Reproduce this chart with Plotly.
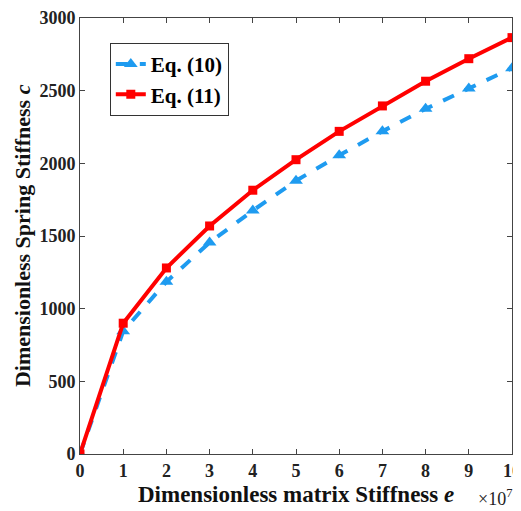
import plotly.graph_objects as go

x_vals = [0, 1, 2, 3, 4, 5, 6, 7, 8, 9, 10]
eq10 = [0, 845, 1185, 1455, 1675, 1880, 2055, 2220, 2375, 2515, 2655]
eq11 = [0, 900, 1280, 1569, 1815, 2025, 2220, 2395, 2565, 2720, 2865]
x_ticks = [0, 1, 2, 3, 4, 5, 6, 7, 8, 9, 10]
y_ticks = [0, 500, 1000, 1500, 2000, 2500, 3000]

font_family = "Liberation Serif"

fig = go.Figure()
fig.add_trace(go.Scatter(
    x=x_vals, y=eq10, name="<b>Eq. (10)</b>", mode="lines+markers",
    line=dict(color="#1E9BF0", width=4, dash="dash"),
    marker=dict(symbol="triangle-up", size=12, color="#1E9BF0"),
))
fig.add_trace(go.Scatter(
    x=x_vals, y=eq11, name="<b>Eq. (11)</b>", mode="lines+markers",
    line=dict(color="#FF0000", width=4),
    marker=dict(symbol="square", size=9, color="#FF0000"),
))

# page body has an 8px default margin, so size and margins are compensated
fig.update_layout(
    width=513, height=503,
    margin=dict(l=72, r=9, t=10, b=57, autoexpand=False),
    plot_bgcolor="white", paper_bgcolor="white",
    font=dict(family=font_family, size=18, color="#222222"),
    showlegend=True,
    legend=dict(
        x=0.069, y=0.943, xanchor="left", yanchor="top",
        bgcolor="white", bordercolor="#333333", borderwidth=1,
        font=dict(family=font_family, size=21, color="black"),
        tracegroupgap=0, itemwidth=30,
    ),
    xaxis=dict(
        range=[0, 10], tickvals=x_ticks, ticktext=[f"<b>{v}</b>" for v in x_ticks],
        ticks="inside", ticklen=5, tickcolor="#444444",
        showline=True, linecolor="#444444", linewidth=1, mirror="ticks",
        showgrid=False, zeroline=False, automargin=False,
        tickfont=dict(family=font_family, size=18, color="#222222"),
    ),
    yaxis=dict(
        range=[0, 3000], tickvals=y_ticks, ticktext=[f"<b>{v}</b>" for v in y_ticks],
        ticks="inside", ticklen=5, tickcolor="#444444",
        showline=True, linecolor="#444444", linewidth=1, mirror="ticks",
        showgrid=False, zeroline=False, automargin=False,
        tickfont=dict(family=font_family, size=18, color="#222222"),
    ),
)
fig.add_annotation(
    xref="paper", yref="paper", x=0.5, y=-0.092, xanchor="center", yanchor="middle",
    text="<b>Dimensionless matrix Stiffness <i>e</i></b>", showarrow=False,
    font=dict(family=font_family, size=23, color="#111111"),
)
fig.add_annotation(
    xref="paper", yref="paper", x=-0.134, y=0.5, xanchor="center", yanchor="middle",
    text="<b>Dimensionless Spring Stiffness <i>c</i></b>", showarrow=False, textangle=-90,
    font=dict(family=font_family, size=22, color="#111111"),
)
fig.add_annotation(
    xref="paper", yref="paper", x=1.005, y=-0.1, xanchor="right", yanchor="middle",
    text="×10<sup>7</sup>", showarrow=False,
    font=dict(family=font_family, size=18, color="#222222"),
)
fig.write_html("out.html")
